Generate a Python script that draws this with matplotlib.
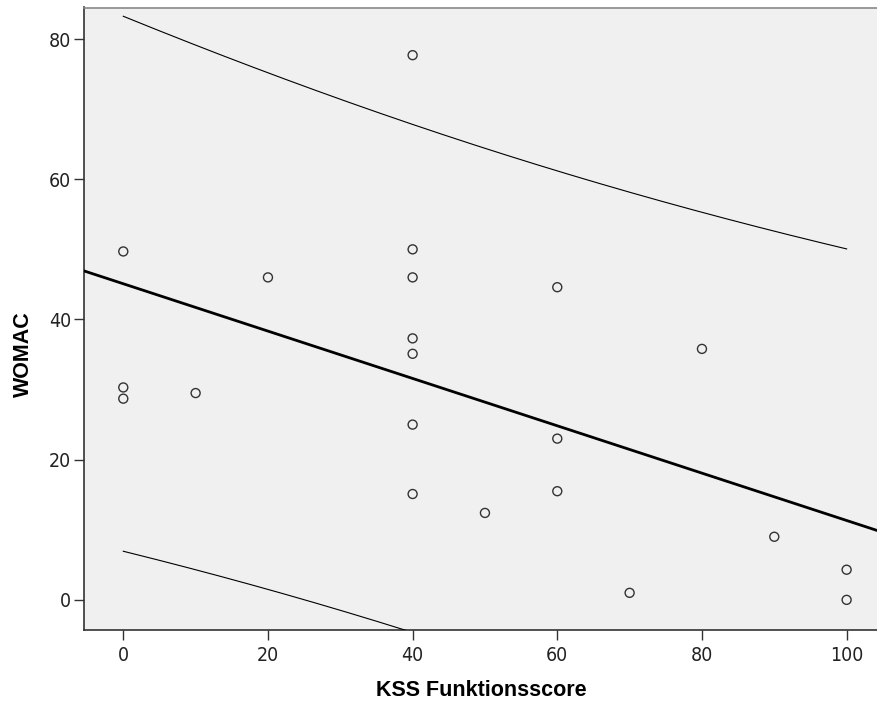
import numpy as np
import matplotlib
matplotlib.use("Agg")
import matplotlib.pyplot as plt
from matplotlib import font_manager as fm

# Data
kss = [0, 0, 0, 10, 20, 40, 40, 40, 40, 40, 40, 40, 50, 60, 60, 60, 70, 80, 90, 100, 100]
womac = [49.7, 30.3, 28.7, 29.5, 46.0, 77.7, 50.0, 46.0, 37.3, 35.1, 25.0, 15.1,
         12.4, 44.6, 23.0, 15.5, 1.0, 35.8, 9.0, 4.3, 0.0]
x_ticks = [0, 20, 40, 60, 80, 100]
y_ticks = [0, 20, 40, 60, 80]
x_label = "KSS Funktionsscore"
y_label = "WOMAC"
t_crit = 2.093  # t(0.975, df=19)

x = np.array(kss, dtype=float)
y = np.array(womac, dtype=float)
n = len(x)
slope, intercept = np.polyfit(x, y, 1)
resid = y - (intercept + slope * x)
s = np.sqrt(np.sum(resid ** 2) / (n - 2))
xbar = x.mean()
sxx = np.sum((x - xbar) ** 2)

# choose a narrow font for the tick labels if one is installed
fonts = {(f.name, f.stretch) for f in fm.fontManager.ttflist}
names = {f[0] for f in fonts}
tick_kw = dict(family=["Liberation Sans", "DejaVu Sans"], fontsize=14)
if "Liberation Sans Narrow" in names:
    tick_kw = dict(family=["Liberation Sans Narrow", "Liberation Sans"], fontsize=15.5)
elif "DejaVu Sans Condensed" in names:
    tick_kw = dict(family=["DejaVu Sans Condensed", "DejaVu Sans"], fontsize=14)
elif any(nm == "DejaVu Sans" and st == "condensed" for nm, st in fonts):
    tick_kw = dict(family=["DejaVu Sans"], fontstretch="condensed", fontsize=14)

W, H = 877, 709
fig = plt.figure(figsize=(W / 100, H / 100), dpi=100)
left_px, right_px, top_px, bot_px = 83.5, 877, 7.5, 630
ax = fig.add_axes([left_px / W, 1 - bot_px / H, (right_px - left_px) / W, (bot_px - top_px) / H])
ax.set_facecolor("#F0F0F0")
xlim = (-5.5, 104.2)
ylim = (-4.3, 84.5)
ax.set_xlim(*xlim)
ax.set_ylim(*ylim)

# regression line across the full range
xl = np.linspace(xlim[0], xlim[1], 200)
ax.plot(xl, intercept + slope * xl, color="black", lw=2.0, zorder=3)

# prediction interval over the data range
xp = np.linspace(x.min(), x.max(), 300)
half = t_crit * s * np.sqrt(1 + 1 / n + (xp - xbar) ** 2 / sxx)
yp = intercept + slope * xp
ax.plot(xp, yp + half, color="black", lw=0.8, zorder=3)
ax.plot(xp, yp - half, color="black", lw=0.8, zorder=3)

ax.scatter(x, y, s=42, facecolors="none", edgecolors="#333333", linewidths=1.0, zorder=4)

ax.set_xticks(x_ticks)
ax.set_yticks(y_ticks)
ax.set_xticklabels([str(v) for v in x_ticks], color="#222222", **tick_kw)
ax.set_yticklabels([str(v) for v in y_ticks], color="#222222", **tick_kw)
ax.tick_params(axis="x", length=7.5, width=1.0, pad=4.0, color="#333333", direction="out")
ax.tick_params(axis="y", length=7.5, width=1.0, pad=1.5, color="#333333", direction="out")

for side in ["left", "bottom"]:
    ax.spines[side].set_color("#333333")
    ax.spines[side].set_linewidth(1.2)
ax.spines["top"].set_color("#888888")
ax.spines["top"].set_linewidth(1.2)
ax.spines["right"].set_visible(False)

lab_font = ["Liberation Sans", "DejaVu Sans"]
ax.text((481 - left_px) / (right_px - left_px), (bot_px - 691) / (bot_px - top_px), x_label,
        transform=ax.transAxes, ha="center", va="center", fontsize=15.5,
        fontweight="bold", family=lab_font, color="black")
ax.text((23 - left_px) / (right_px - left_px), (bot_px - 354) / (bot_px - top_px), y_label,
        transform=ax.transAxes, ha="center", va="center", rotation=90, fontsize=15.5,
        fontweight="bold", family=lab_font, color="black")

fig.savefig("out.png", dpi=100)
